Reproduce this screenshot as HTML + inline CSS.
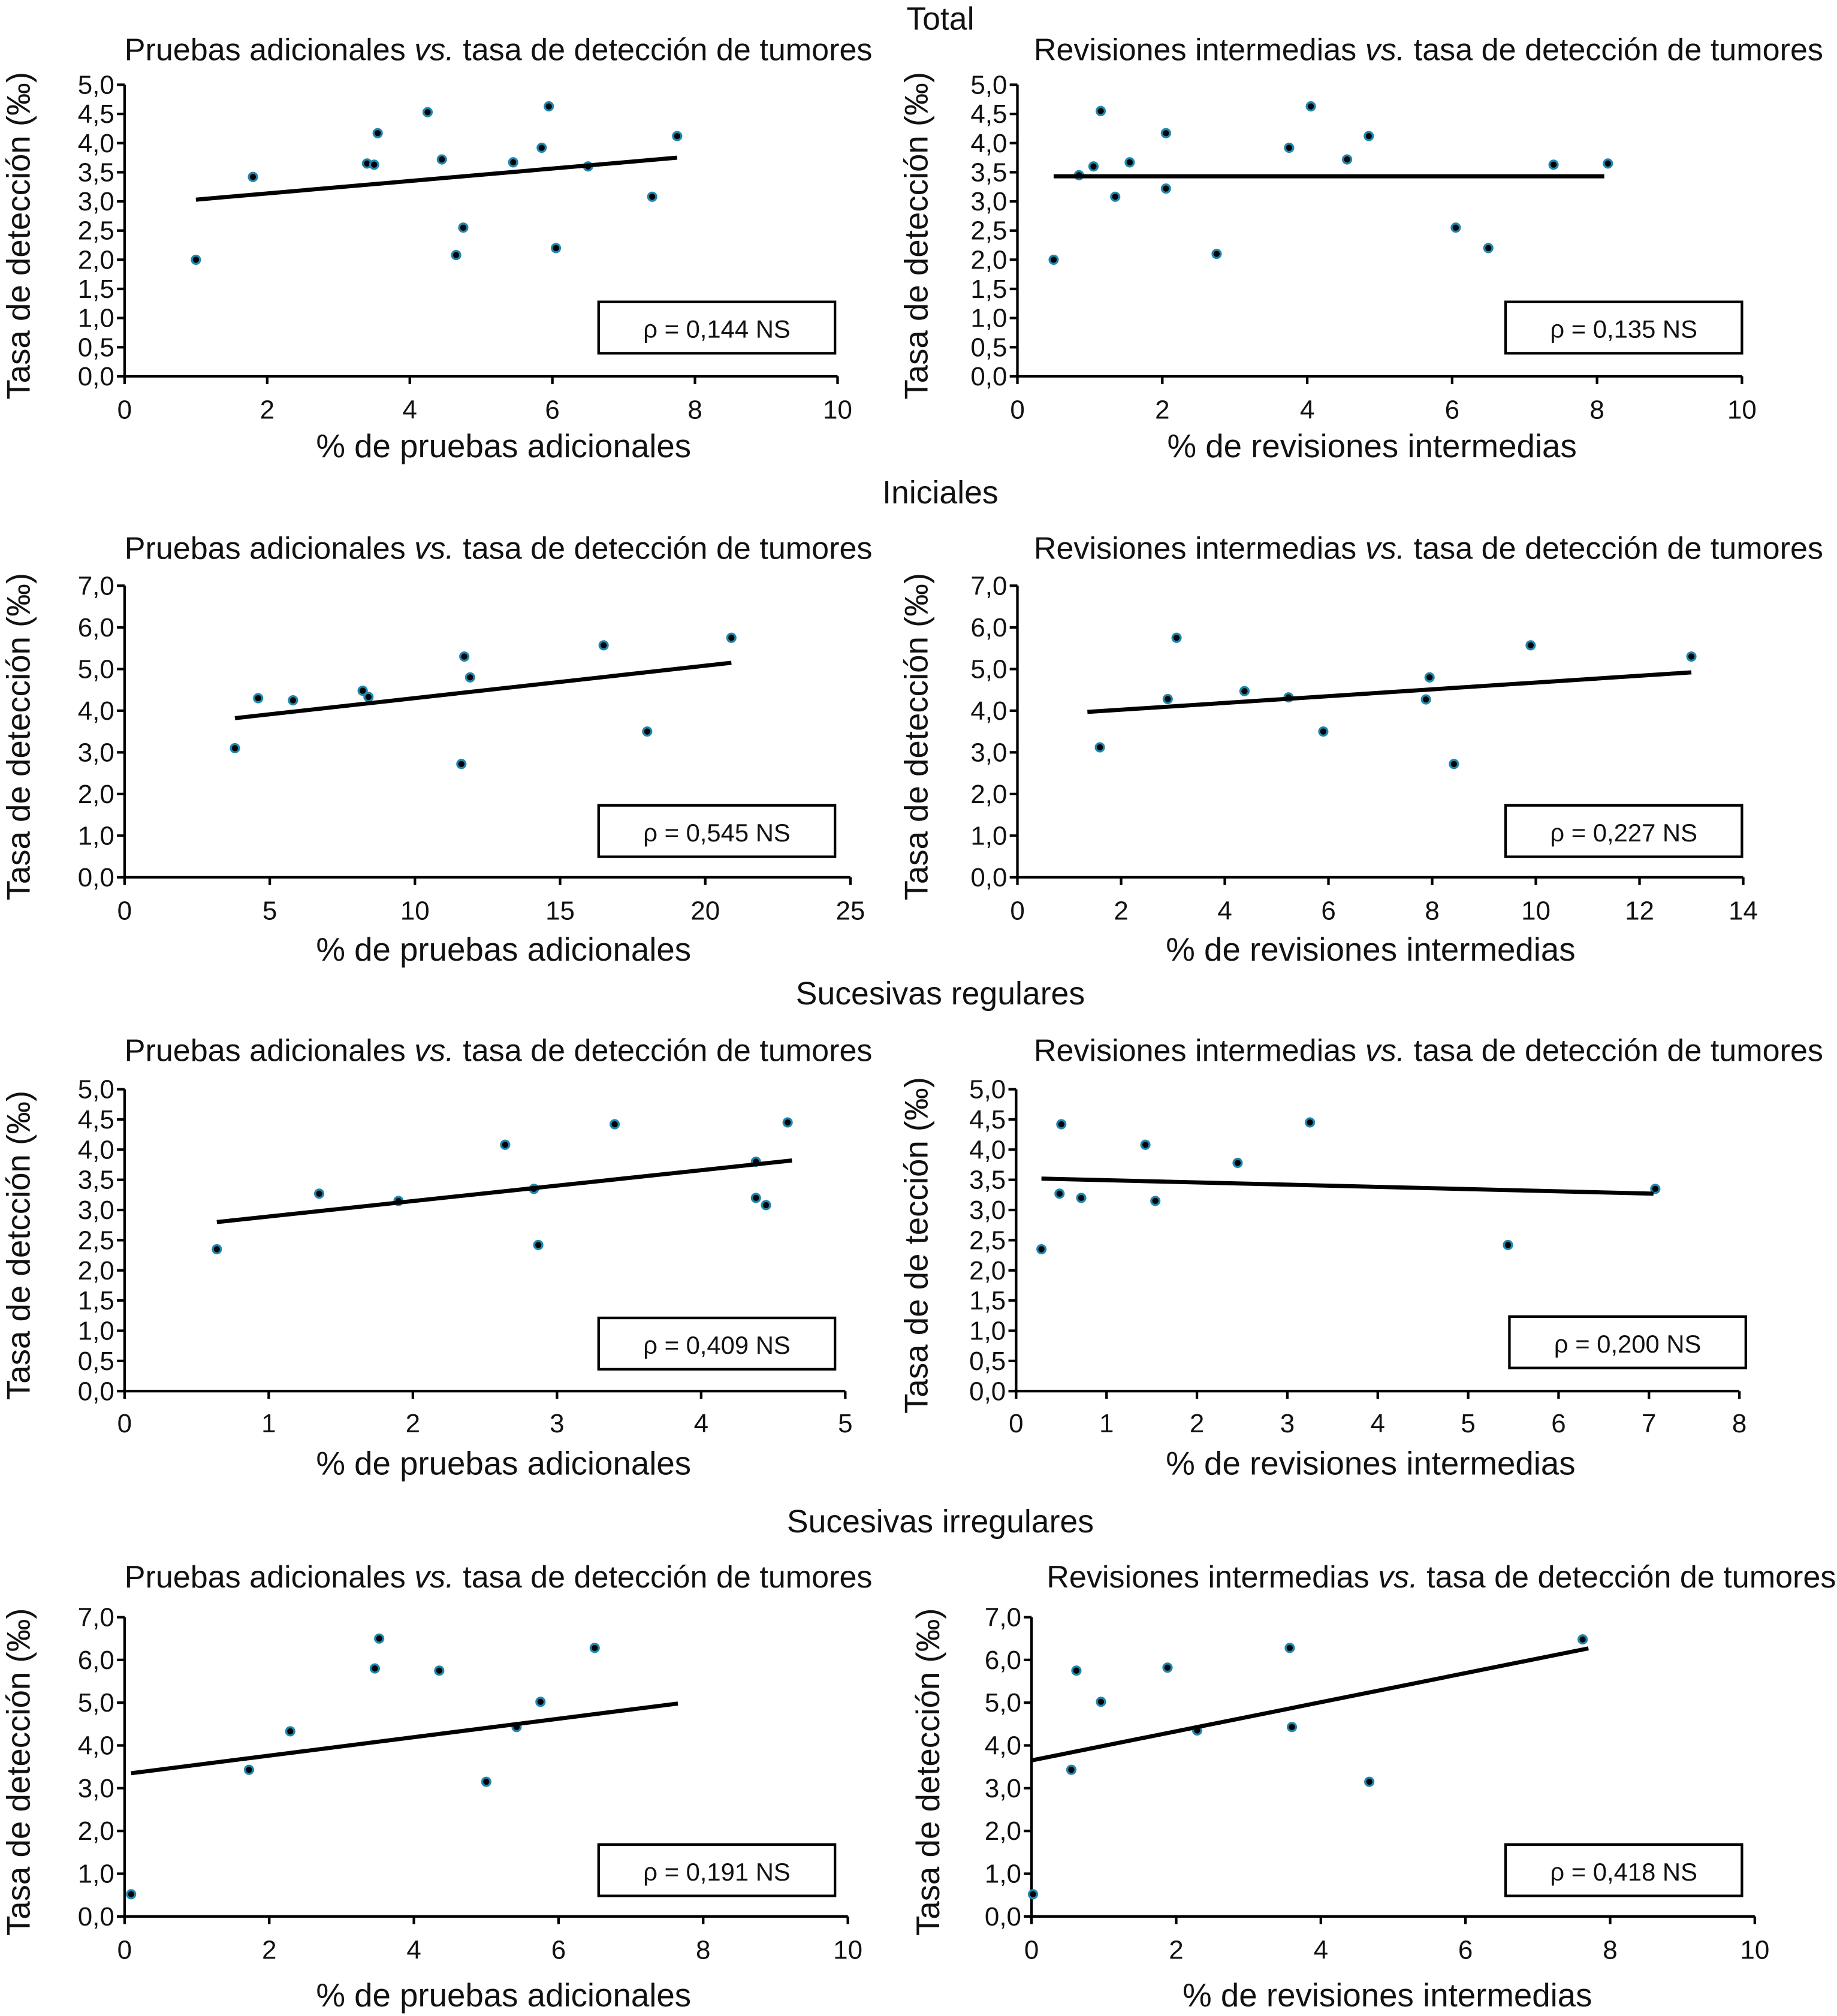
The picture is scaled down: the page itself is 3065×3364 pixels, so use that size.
<!DOCTYPE html>
<html><head><meta charset="utf-8"><style>
html,body{margin:0;padding:0;background:#fff}
svg{display:block}
text{font-family:"Liberation Sans",sans-serif;fill:#111}
</style></head><body>
<svg id="fig" width="3065" height="3364" viewBox="0 0 1430 1569.5" xmlns="http://www.w3.org/2000/svg"></svg>
<script>
// Data
const p1x=[1.0,1.8,3.4,3.5,3.55,4.25,4.45,4.65,4.75,5.45,5.85,5.95,6.05,6.5,7.4,7.75];
const p1y=[2.0,3.42,3.65,3.63,4.17,4.53,3.72,2.08,2.55,3.67,3.92,4.63,2.2,3.6,3.08,4.12];
const p1fit=[[1.0,3.03],[7.75,3.75]];
const p2x=[0.5,0.85,1.05,1.15,1.35,1.55,2.05,2.05,2.75,3.75,4.05,4.55,4.85,6.05,6.5,7.4,8.15];
const p2y=[2.0,3.45,3.6,4.55,3.08,3.67,3.22,4.17,2.1,3.92,4.63,3.72,4.12,2.55,2.2,3.63,3.65];
const p2fit=[[0.5,3.43],[8.1,3.43]];
const p3x=[3.8,4.6,5.8,8.2,8.4,11.6,11.7,11.9,16.5,18,20.9];
const p3y=[3.1,4.3,4.25,4.48,4.33,2.72,5.3,4.8,5.57,3.5,5.75];
const p3fit=[[3.8,3.82],[20.9,5.15]];
const p4x=[1.59,2.9,3.07,4.38,5.23,5.9,7.88,7.95,8.42,9.9,13.0];
const p4y=[3.12,4.28,5.75,4.47,4.32,3.5,4.27,4.8,2.72,5.57,5.3];
const p4fit=[[1.35,3.97],[13.0,4.92]];
const p5x=[0.64,1.35,1.9,2.64,2.84,2.87,3.4,4.38,4.38,4.45,4.6];
const p5y=[2.35,3.27,3.15,4.08,3.35,2.42,4.42,3.8,3.2,3.08,4.45];
const p5fit=[[0.64,2.8],[4.63,3.82]];
const p6x=[0.28,0.48,0.5,0.72,1.43,1.54,2.45,3.25,5.44,7.07];
const p6y=[2.35,3.27,4.42,3.2,4.08,3.15,3.78,4.45,2.42,3.35];
const p6fit=[[0.28,3.52],[7.05,3.27]];
const p7x=[0.09,1.72,2.29,3.46,3.52,4.35,5.0,5.42,5.75,6.5];
const p7y=[0.52,3.43,4.33,5.8,6.5,5.75,3.15,4.43,5.02,6.28];
const p7fit=[[0.09,3.35],[7.65,4.98]];
const p8x=[0.02,0.55,0.62,0.96,1.88,2.29,3.57,3.6,4.67,7.62];
const p8y=[0.52,3.43,5.75,5.02,5.82,4.35,6.28,4.43,3.15,6.48];
const p8fit=[[0.0,3.65],[7.7,6.27]];
const rhos=["ρ = 0,144 NS","ρ = 0,135 NS","ρ = 0,545 NS","ρ = 0,227 NS","ρ = 0,409 NS","ρ = 0,200 NS","ρ = 0,191 NS","ρ = 0,418 NS"];

const NS="http://www.w3.org/2000/svg";
const svg=document.getElementById('fig');
function el(tag,attrs,parent,txt){const e=document.createElementNS(NS,tag);for(const k in attrs)e.setAttribute(k,attrs[k]);if(txt!==undefined)e.textContent=txt;(parent||svg).appendChild(e);return e;}
function fmt(v,dec){return dec?v.toFixed(1).replace('.',','):String(v);}

const TITLE_L="Pruebas adicionales ", TITLE_R="Revisiones intermedias ";
const panels=[
 {x0:97,x1:652,xmax:10,xs:2,y0:293,y1:66,ymax:5,ys:0.5,xs2:p1x,ys2:p1y,fit:p1fit,rho:rhos[0],box:[466,235],ty:38,tc:388,tl:TITLE_L,xc:392,xt:"% de pruebas adicionales",yt:"Tasa de detección (‰)",ytx:14,xty:347,xly:318,name:'total-pruebas'},
 {x0:792,x1:1356,xmax:10,xs:2,y0:293,y1:66,ymax:5,ys:0.5,xs2:p2x,ys2:p2y,fit:p2fit,rho:rhos[1],box:[1172,235],ty:38,tc:1112,tl:TITLE_R,xc:1068,xt:"% de revisiones intermedias",yt:"Tasa de detección (‰)",ytx:713,xty:347,xly:318,name:'total-revisiones'},
 {x0:97,x1:662,xmax:25,xs:5,y0:683,y1:456,ymax:7,ys:1,xs2:p3x,ys2:p3y,fit:p3fit,rho:rhos[2],box:[466,627],ty:426,tc:388,tl:TITLE_L,xc:392,xt:"% de pruebas adicionales",yt:"Tasa de detección (‰)",ytx:14,xty:739,xly:708,name:'iniciales-pruebas'},
 {x0:792,x1:1357,xmax:14,xs:2,y0:683,y1:456,ymax:7,ys:1,xs2:p4x,ys2:p4y,fit:p4fit,rho:rhos[3],box:[1172,627],ty:426,tc:1112,tl:TITLE_R,xc:1067,xt:"% de revisiones intermedias",yt:"Tasa de detección (‰)",ytx:713,xty:739,xly:708,name:'iniciales-revisiones'},
 {x0:97,x1:658,xmax:5,xs:1,y0:1083,y1:848,ymax:5,ys:0.5,xs2:p5x,ys2:p5y,fit:p5fit,rho:rhos[4],box:[466,1026],ty:817,tc:388,tl:TITLE_L,xc:392,xt:"% de pruebas adicionales",yt:"Tasa de detcción (‰)",ytx:14,xty:1139,xly:1107,name:'regulares-pruebas'},
 {x0:791,x1:1354,xmax:8,xs:1,y0:1083,y1:848,ymax:5,ys:0.5,xs2:p6x,ys2:p6y,fit:p6fit,rho:rhos[5],box:[1175,1025],ty:817,tc:1112,tl:TITLE_R,xc:1067,xt:"% de revisiones intermedias",yt:"Tasa de de tección (‰)",ytx:713,xty:1139,xly:1107,name:'regulares-revisiones'},
 {x0:97,x1:660,xmax:10,xs:2,y0:1492,y1:1259,ymax:7,ys:1,xs2:p7x,ys2:p7y,fit:p7fit,rho:rhos[6],box:[466,1436],ty:1227,tc:388,tl:TITLE_L,xc:392,xt:"% de pruebas adicionales",yt:"Tasa de detección (‰)",ytx:14,xty:1553,xly:1517,name:'irregulares-pruebas'},
 {x0:803,x1:1366,xmax:10,xs:2,y0:1492,y1:1259,ymax:7,ys:1,xs2:p8x,ys2:p8y,fit:p8fit,rho:rhos[7],box:[1172,1436],ty:1227,tc:1122,tl:TITLE_R,xc:1080,xt:"% de revisiones intermedias",yt:"Tasa de detección (‰)",ytx:722,xty:1553,xly:1517,name:'irregulares-revisiones'}
];
const sections=[["Total",14],["Iniciales",383],["Sucesivas regulares",773],["Sucesivas irregulares",1184]];
sections.forEach(s=>{
 const t=el('text',{x:732,y:s[1]+9,'text-anchor':'middle','font-size':25});
 t.textContent=s[0];
 
 
});

panels.forEach(p=>{
 const g=el('g',{});
 
 
 const X=v=>p.x0+(p.x1-p.x0)*v/p.xmax;
 const Y=v=>p.y0-(p.y0-p.y1)*v/p.ymax;
 const tt=el('text',{x:p.tc,y:p.ty+9,'text-anchor':'middle','font-size':24.3},g);
 
 
 el('tspan',{},tt,p.tl);
 el('tspan',{'font-style':'italic'},tt,'vs.');
 el('tspan',{},tt,' tasa de detección de tumores');
 const ax=el('path',{d:`M${p.x0},${p.y1} V${p.y0} H${p.x1}`,stroke:'#000','stroke-width':2,fill:'none'},g);
 
 
 const ny=Math.round(p.ymax/p.ys);
 for(let i=0;i<=ny;i++){const v=i*p.ys,y=Y(v);
  el('line',{x1:p.x0-6,x2:p.x0,y1:y,y2:y,stroke:'#000','stroke-width':2},g);
  const t=el('text',{x:p.x0-8,y:y+7,'text-anchor':'end','font-size':20.5},g,fmt(v,true));
  
  
 }
 const nx=Math.round(p.xmax/p.xs);
 for(let i=0;i<=nx;i++){const v=i*p.xs,x=X(v);
  el('line',{x1:x,x2:x,y1:p.y0,y2:p.y0+6,stroke:'#000','stroke-width':2},g);
  const t=el('text',{x:x,y:p.xly+8,'text-anchor':'middle','font-size':20.5},g,fmt(v,false));
  
  
 }
 const xt=el('text',{x:p.xc,y:p.xty+9,'text-anchor':'middle','font-size':25.5},g,p.xt);
 
 
 const yc=(p.y0+p.y1)/2;
 const yt=el('text',{x:0,y:0,transform:`translate(${p.ytx+9},${yc+4}) rotate(-90)`,'text-anchor':'middle','font-size':25.5},g,p.yt);
 
 
 p.xs2.forEach((v,i)=>{
  const c=el('circle',{cx:X(v),cy:Y(p.ys2[i]),r:3.2,fill:'#000',stroke:'#1f87b0','stroke-width':1.6},g);
  
  
 });
 const f=p.fit;
 const ln=el('line',{x1:X(f[0][0]),y1:Y(f[0][1]),x2:X(f[1][0]),y2:Y(f[1][1]),stroke:'#000','stroke-width':3.2},g);
 
 
 const b=el('rect',{x:p.box[0],y:p.box[1],width:184,height:40,fill:'#fff',stroke:'#000','stroke-width':2},g);
 
 
 const rt=el('text',{x:p.box[0]+92,y:p.box[1]+28,'text-anchor':'middle','font-size':19.5},g,p.rho);
 
 
});
</script>
</body></html>
